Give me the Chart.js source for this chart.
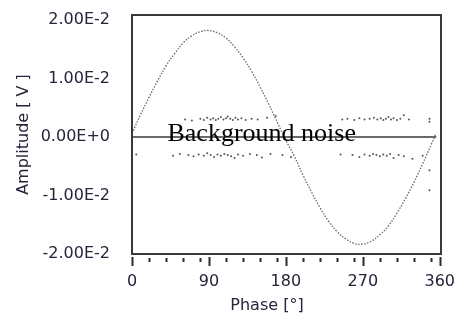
<!DOCTYPE html>
<html>
<head>
<meta charset="utf-8">
<script src="https://cdn.jsdelivr.net/npm/chart.js@4"></script>
<style>
  html, body { margin: 0; padding: 0; background: #fff; }
  #wrap { width: 456px; height: 320px; }
</style>
</head>
<body>
<div id="wrap"><canvas id="chart"></canvas></div>
<script>
// === Datos ===
// señal: fase en grados, amplitud en voltios
const phase = [0, 10, 20, 30, 40, 50, 60, 70, 80, 90, 100, 110, 120, 130, 140, 150, 160, 170, 180,
  190, 200, 210, 220, 230, 240, 250, 260, 270, 280, 290, 300, 310, 320, 330, 340, 350, 355];
const amplitude = [0.0006, 0.0038, 0.0068, 0.0096, 0.0122, 0.0143, 0.0161, 0.0173, 0.0180, 0.0182,
  0.0178, 0.0169, 0.0154, 0.0135, 0.0112, 0.0085, 0.0056, 0.0025, -0.0006,
  -0.0033, -0.0065, -0.0094, -0.0121, -0.0144, -0.0162, -0.0174, -0.0182, -0.0183, -0.0178,
  -0.0167, -0.0152, -0.0130, -0.0105, -0.0077, -0.0046, -0.0013, 0.0004];

// ruido de fondo (arriba y abajo de cero)
const noiseUpPhase = [62, 70, 80, 84, 88, 92, 95, 98, 101, 104, 107, 110, 112, 115, 118, 121, 124, 128,
  133, 140, 147, 158, 168, 246, 252, 260, 266, 272, 278, 283, 287, 291, 294, 297, 300, 303, 306, 310,
  314, 318, 324, 348, 348];
const noiseUpAmp = [0.0030, 0.0028, 0.0031, 0.0029, 0.0033, 0.0030, 0.0032, 0.0029, 0.0031, 0.0034,
  0.0030, 0.0032, 0.0035, 0.0031, 0.0029, 0.0033, 0.0030, 0.0032, 0.0029, 0.0031, 0.0030, 0.0033,
  0.0036, 0.0030, 0.0031, 0.0029, 0.0032, 0.0030, 0.0031, 0.0033, 0.0030, 0.0032, 0.0029, 0.0031,
  0.0034, 0.0030, 0.0032, 0.0029, 0.0031, 0.0037, 0.0030, 0.0031, 0.0026];
const noiseDownPhase = [5, 48, 56, 66, 72, 78, 84, 88, 92, 96, 100, 104, 108, 112, 116, 120, 124, 130,
  138, 146, 152, 162, 176, 186, 244, 258, 266, 272, 278, 282, 286, 290, 294, 298, 302, 306, 312, 318,
  328, 340, 348, 348];
const noiseDownAmp = [-0.0030, -0.0032, -0.0029, -0.0031, -0.0033, -0.0030, -0.0032, -0.0028, -0.0031,
  -0.0034, -0.0030, -0.0032, -0.0029, -0.0031, -0.0033, -0.0036, -0.0030, -0.0032, -0.0029, -0.0031,
  -0.0035, -0.0029, -0.0031, -0.0034, -0.0030, -0.0031, -0.0034, -0.0030, -0.0032, -0.0029, -0.0031,
  -0.0033, -0.0030, -0.0032, -0.0029, -0.0036, -0.0031, -0.0033, -0.0037, -0.0032, -0.0057, -0.0091];

// línea de cero
const basePhase = [0, 356];
const baseAmp = [0, 0];

// ejes
const xTicks = [0, 90, 180, 270, 360];
const xMinorTicks = [20, 40, 60, 80, 110, 130, 150, 170, 200, 220, 240, 260, 290, 310, 330, 350];
const yTicks = [-0.02, -0.01, 0, 0.01, 0.02];

const toPoints = (xs, ys) => xs.map((x, i) => ({ x: x, y: ys[i] }));

const textColor = "#24243a";
const uiFont = "'DejaVu Sans', sans-serif";

// sin márgenes extra por las etiquetas de los ejes
const noOverflow = s => {
  s.paddingTop = 0; s.paddingBottom = 0; s.paddingLeft = 0; s.paddingRight = 0;
};

// marco, marcas del eje x, título x y texto "Background noise"
const extras = {
  id: "extras",
  afterDatasetsDraw(chart) {
    const { ctx, scales } = chart;
    ctx.save();
    ctx.font = "26px 'Liberation Serif', serif";
    ctx.fillStyle = "#000";
    ctx.textAlign = "left";
    ctx.textBaseline = "alphabetic";
    ctx.fillText("Background noise", scales.x.getPixelForValue(41.5), scales.y.getPixelForValue(-0.0007));
    ctx.restore();
  },
  afterDraw(chart) {
    const { ctx, chartArea, scales } = chart;
    ctx.save();
    ctx.strokeStyle = "#3a3a3a";
    ctx.lineWidth = 2;
    ctx.strokeRect(chartArea.left, chartArea.top, chartArea.right - chartArea.left, chartArea.bottom - chartArea.top);

    const b = chartArea.bottom;
    ctx.strokeStyle = "#2a2a2a";
    xTicks.forEach(v => {
      const px = Math.round(scales.x.getPixelForValue(v)) + 0.5;
      ctx.beginPath(); ctx.moveTo(px, b + 3); ctx.lineTo(px, b + 12); ctx.stroke();
    });
    xMinorTicks.forEach(v => {
      const px = Math.round(scales.x.getPixelForValue(v)) + 0.5;
      ctx.beginPath(); ctx.moveTo(px, b + 4); ctx.lineTo(px, b + 8); ctx.stroke();
    });

    ctx.font = "16px " + uiFont;
    ctx.fillStyle = textColor;
    ctx.textAlign = "center";
    ctx.textBaseline = "middle";
    ctx.fillText("Phase [°]", 267, 306);
    ctx.restore();
  }
};

new Chart(document.getElementById("chart"), {
  type: "scatter",
  data: {
    datasets: [{
      label: "cero",
      data: toPoints(basePhase, baseAmp),
      showLine: true,
      borderColor: "#6a6a6a",
      borderWidth: 2,
      pointRadius: 0
    }, {
      label: "ruido +",
      data: toPoints(noiseUpPhase, noiseUpAmp),
      backgroundColor: "#555",
      borderWidth: 0,
      pointRadius: 1
    }, {
      label: "ruido -",
      data: toPoints(noiseDownPhase, noiseDownAmp),
      backgroundColor: "#555",
      borderWidth: 0,
      pointRadius: 1
    }, {
      label: "señal",
      data: toPoints(phase, amplitude),
      showLine: true,
      borderColor: "#6a6a6a",
      borderWidth: 1.3,
      borderDash: [1.5, 1.5],
      tension: 0.4,
      pointRadius: 0
    }]
  },
  options: {
    responsive: true,
    maintainAspectRatio: false,
    animation: false,
    events: [],
    layout: { padding: { top: 15, right: 15, left: 0, bottom: 0 } },
    plugins: {
      legend: { display: false },
      tooltip: { enabled: false }
    },
    scales: {
      x: {
        type: "linear",
        min: 0,
        max: 361.5,
        afterBuildTicks: s => { s.ticks = xTicks.map(v => ({ value: v })); },
        afterFit: s => { s.height = 66; noOverflow(s); },
        grid: { display: false, drawTicks: false },
        border: { display: false },
        ticks: {
          padding: 18,
          maxRotation: 0,
          color: textColor,
          font: { family: uiFont, size: 16 }
        }
      },
      y: {
        type: "linear",
        min: -0.02,
        max: 0.02085,
        afterBuildTicks: s => { s.ticks = yTicks.map(v => ({ value: v })); },
        afterFit: s => { s.width = 132; noOverflow(s); },
        grid: { display: false, drawTicks: false },
        border: { display: false },
        ticks: {
          padding: 22,
          color: textColor,
          font: { family: uiFont, size: 16 },
          callback: v => Number(v).toExponential(2).toUpperCase()
        },
        title: {
          display: true,
          text: "Amplitude [ V ]",
          color: textColor,
          font: { family: uiFont, size: 16 },
          padding: { top: 14, bottom: 0 }
        }
      }
    }
  },
  plugins: [extras]
});
</script>
</body>
</html>
